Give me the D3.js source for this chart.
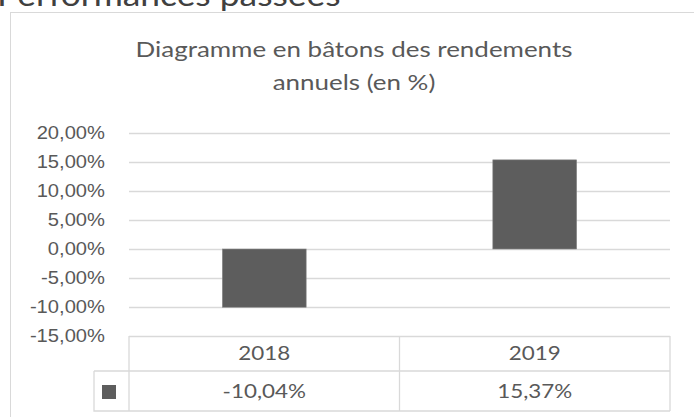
<!DOCTYPE html>
<html>
<head>
<meta charset="utf-8">
<script src="https://cdn.jsdelivr.net/npm/d3@7"></script>
<style>
  body { margin: 0; background: #fff; }
  svg { display: block; font-family: Lato, "Open Sans", sans-serif; }
</style>
</head>
<body>
<div id="chart"></div>
<script>
// Data
var years = ['2018', '2019'];
var returns = [-0.1004, 0.1537];
var yTicks = [-0.15, -0.10, -0.05, 0, 0.05, 0.10, 0.15, 0.20];
var titleLines = ['Diagramme en bâtons des rendements', 'annuels (en %)'];
var pageHeading = 'Performances passées';

var width = 694, height = 417;
var SX = 1.18; // the source picture is a bit wide, stretch text horizontally
var textColor = '#595959';
var gridColor = '#d9d9d9';

var plot = { left: 129, right: 670, top: 133, bottom: 336 };
var table = { keyLeft: 94, headerBottom: 371, bottom: 411 };

var fr = d3.formatLocale({
	decimal: ',', thousands: ' ', grouping: [3], currency: ['', ' €'], minus: '-'
});
var pct = fr.format('.2%');

var xScale = d3.scaleBand()
		.domain(years)
		.range([plot.left, plot.right])
		.paddingInner(0.69)
		.paddingOuter(0.345);

var yScale = d3.scaleLinear()
		.domain([-0.15, 0.20])
		.range([plot.bottom, plot.top]);

var svg = d3.select('#chart').append('svg')
		.attr('width', width)
		.attr('height', height);

// page heading, mostly cut off above
svg.append('text')
		.attr('transform', 'translate(-3,6) scale(' + SX + ',1)')
		.attr('font-size', 30)
		.attr('fill', '#404040')
		.text(pageHeading);

// chart frame
svg.append('rect')
		.attr('x', 10.5).attr('y', 12.5)
		.attr('width', 688).attr('height', 420)
		.attr('fill', '#fff')
		.attr('stroke', gridColor);

// title
svg.append('g')
		.selectAll('text')
		.data(titleLines)
		.enter()
		.append('text')
		.attr('transform', (d, i) => 'translate(354,' + (57 + i * 33) + ') scale(' + SX + ',1)')
		.attr('text-anchor', 'middle')
		.attr('font-size', 22)
		.attr('fill', textColor)
		.text(d => d);

// y axis with gridlines
var yAxis = svg.append('g')
		.attr('transform', 'translate(' + plot.left + ',0)')
		.call(d3.axisLeft(yScale)
				.tickValues(yTicks)
				.tickSize(-(plot.right - plot.left))
				.tickPadding(0)
				.tickFormat(pct));

yAxis.select('.domain').remove();
yAxis.selectAll('.tick line')
		.attr('stroke', gridColor)
		.attr('stroke-width', 1.3);
yAxis.selectAll('.tick text')
		.attr('x', null)
		.attr('transform', 'translate(-24,0) scale(1.12,1)')
		.attr('font-size', 18)
		.attr('font-family', null)
		.attr('fill', textColor);

// bars
svg.append('g')
		.selectAll('rect')
		.data(returns)
		.enter()
		.append('rect')
		.attr('x', (d, i) => xScale(years[i]))
		.attr('y', d => yScale(Math.max(0, d)))
		.attr('width', xScale.bandwidth())
		.attr('height', d => Math.abs(yScale(d) - yScale(0)))
		.attr('fill', '#5d5d5d')
		.attr('stroke', '#8a8a8a')
		.attr('stroke-width', 0.6);

// data table under the plot
var tbl = svg.append('g')
		.attr('stroke', gridColor)
		.attr('stroke-width', 1.3)
		.attr('fill', 'none');

tbl.append('path')
		.attr('d', 'M' + plot.left + ',' + plot.bottom + 'V' + table.bottom +
				'M' + table.keyLeft + ',' + table.headerBottom + 'H' + plot.right +
				'M' + table.keyLeft + ',' + table.headerBottom + 'V' + table.bottom + 'H' + plot.right +
				'M' + plot.right + ',' + plot.bottom + 'V' + table.bottom);

tbl.selectAll('line.sep')
		.data(years.slice(1))
		.enter()
		.append('line')
		.attr('class', 'sep')
		.attr('x1', d => xScale(d) - xScale.step() * xScale.paddingInner() / 2)
		.attr('x2', d => xScale(d) - xScale.step() * xScale.paddingInner() / 2)
		.attr('y1', plot.bottom)
		.attr('y2', table.bottom);

// legend key
svg.append('rect')
		.attr('x', 102).attr('y', 385)
		.attr('width', 14).attr('height', 14)
		.attr('fill', '#5d5d5d');

var cells = svg.append('g')
		.attr('font-size', 19)
		.attr('fill', textColor)
		.attr('text-anchor', 'middle');

cells.selectAll('text.year')
		.data(years)
		.enter()
		.append('text')
		.attr('class', 'year')
		.attr('dy', '0.35em')
		.attr('transform', d => 'translate(' + (xScale(d) + xScale.bandwidth() / 2) + ',' +
				((plot.bottom + table.headerBottom) / 2) + ') scale(' + SX + ',1)')
		.text(d => d);

cells.selectAll('text.val')
		.data(returns)
		.enter()
		.append('text')
		.attr('class', 'val')
		.attr('dy', '0.35em')
		.attr('transform', (d, i) => 'translate(' + (xScale(years[i]) + xScale.bandwidth() / 2) + ',' +
				((table.headerBottom + table.bottom) / 2) + ') scale(' + SX + ',1)')
		.text(d => pct(d));
</script>
</body>
</html>
